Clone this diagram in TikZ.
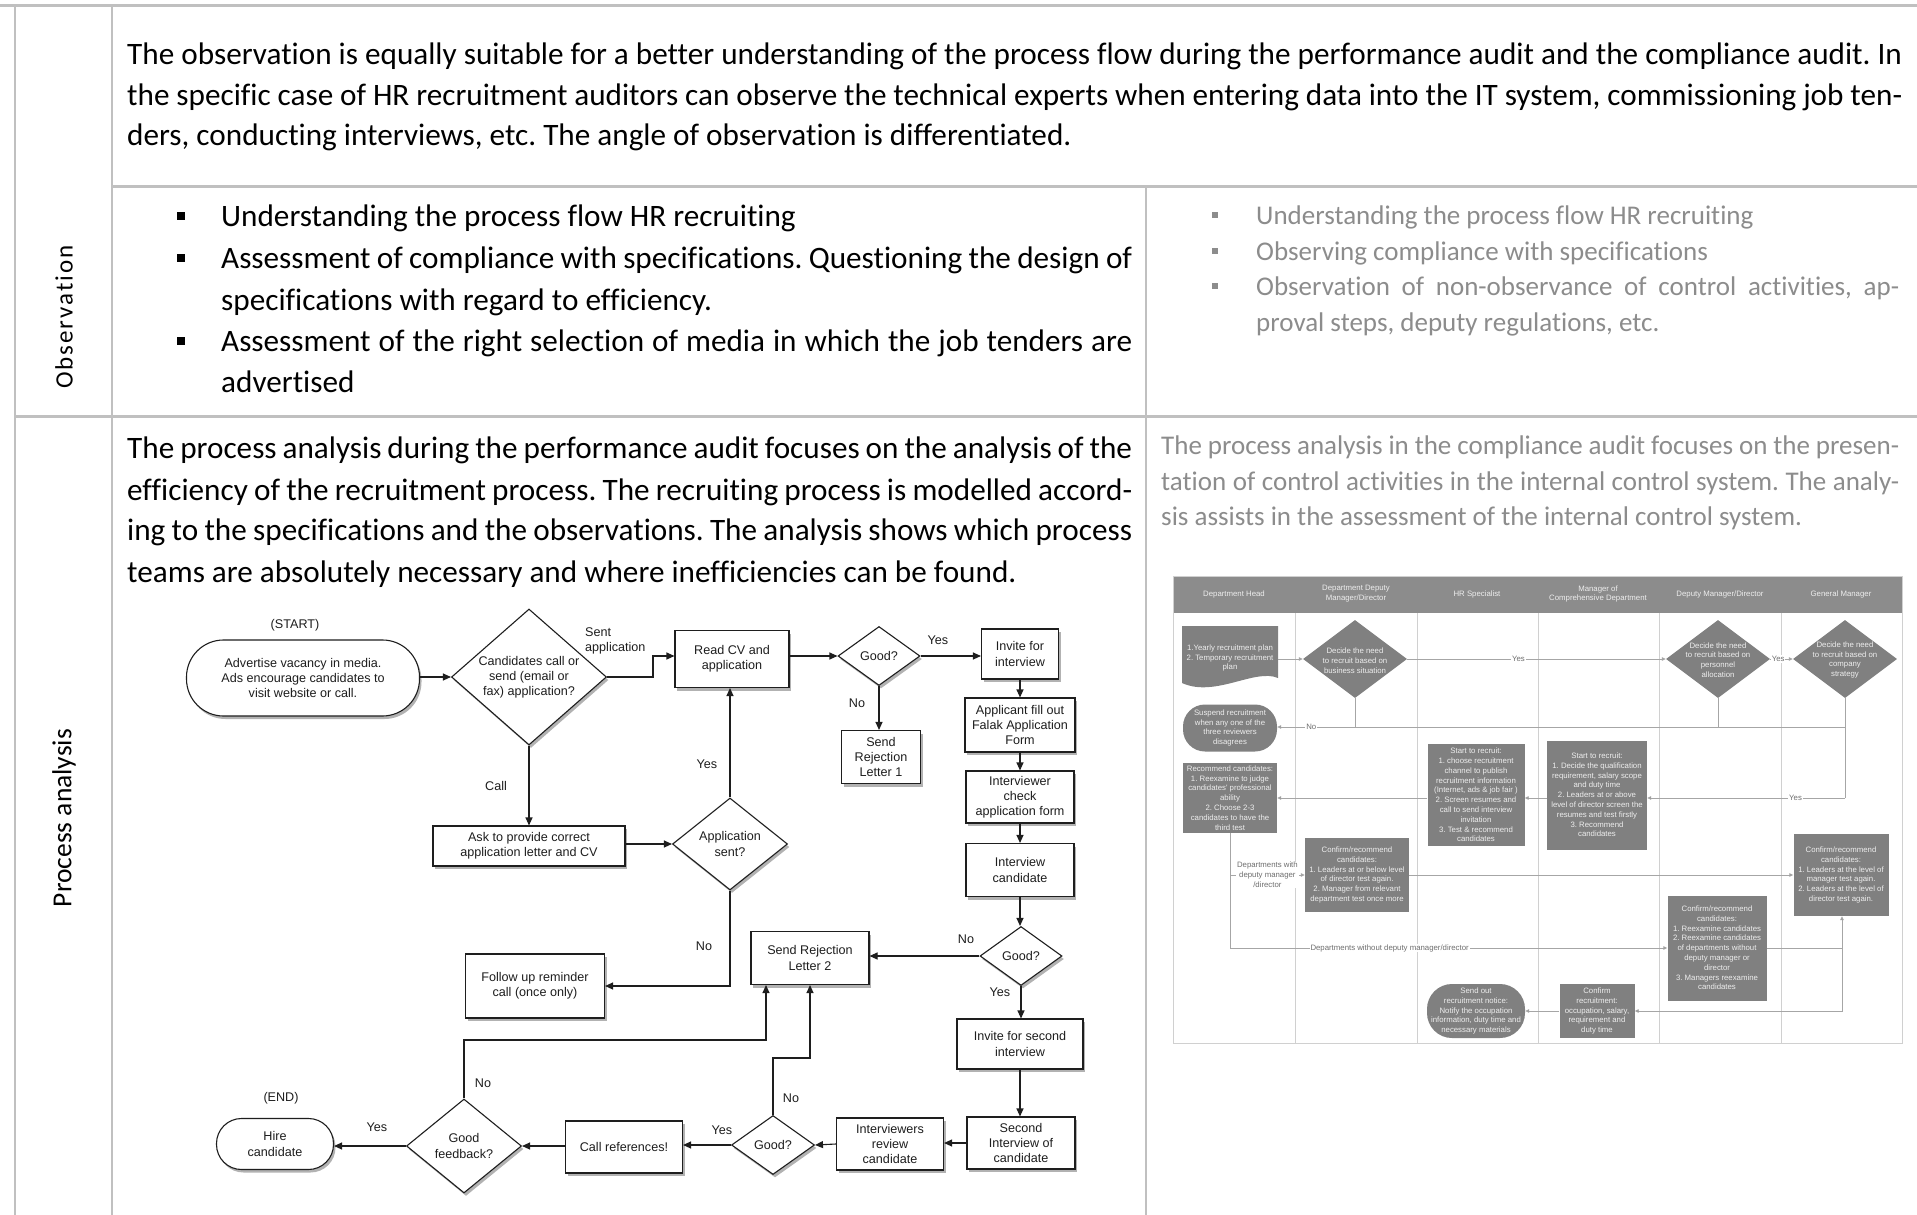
\documentclass[tikz,border=0pt]{standalone}
\usepackage{fontspec}
\setmainfont{Carlito}[Ligatures=NoCommon]
\newfontfamily\flowfont{Liberation Sans}
\newfontfamily\spacedfont[LetterSpace=8,Ligatures=NoCommon]{Carlito}
\usetikzlibrary{arrows.meta,shapes.geometric,shadows}
\definecolor{rulegray}{HTML}{C0C0C0}
\definecolor{txtgray}{HTML}{8C8C8C}
\definecolor{lanefill}{HTML}{808080}
\definecolor{headfill}{HTML}{8C8C8C}
\definecolor{laneline}{HTML}{D0D0D0}
\definecolor{conngray}{HTML}{A6A6A6}
\definecolor{conndark}{HTML}{6E6E6E}
\definecolor{lanetext}{HTML}{EEEEEE}
\definecolor{ink}{HTML}{1E1E1E}
\frenchspacing
\newcommand\mybodyfont{\fontsize{31.2}{40}\selectfont\spaceskip=0.226em plus 0.25em minus 0.07em\relax}
\newcommand\mygrayfont{\fontsize{27}{35}\selectfont\spaceskip=0.226em plus 0.25em minus 0.07em\relax}
\newcommand\myflowsize{\flowfont\fontsize{12.6}{15.2}\selectfont}
\newcommand\mylanesize{\flowfont\fontsize{7.8}{9.8}\selectfont}
\begin{document}
\begin{tikzpicture}[x=1pt,y=-1pt,
  tbl/.style={draw=rulegray, line width=1.5pt},
  tblh/.style={draw=rulegray, line width=3pt},
  bodyline/.style={anchor=base west, inner sep=0pt, font=\mybodyfont, text=black},
  grayline/.style={anchor=base west, inner sep=0pt, font=\mygrayfont, text=txtgray},
  fshadow/.style={drop shadow={shadow xshift=2pt, shadow yshift=-3pt, opacity=0.3, fill=black}},
  fbox/.style={draw=ink, line width=1.1pt, fill=white, fshadow, font=\myflowsize, text=ink, align=center, inner sep=0pt},
  fdiam/.style={fbox, diamond},
  ftext/.style={font=\myflowsize, text=ink, align=center, inner sep=0pt},
  farr/.style={draw=ink, line width=1.1pt, -{Triangle[length=8pt,width=7pt]}},
  sbox/.style={fill=lanefill, text=lanetext, font=\mylanesize, align=center, inner sep=0pt},
  sdiam/.style={fill=lanefill, diamond, inner sep=0pt, minimum width=104pt, minimum height=78pt},
  stext/.style={text=lanetext, font=\mylanesize, align=center, inner sep=0pt},
  sline/.style={draw=conngray, line width=0.9pt},
  sarr/.style={sline, -{Triangle[length=4pt,width=3.5pt,fill=conndark]}},
  slbl/.style={fill=white, inner sep=0.8pt, text=conndark, font=\mylanesize, align=center},
  hdr/.style={text=lanetext, font=\mylanesize, align=center, inner sep=0pt}
]
\useasboundingbox (0,0) rectangle (1917,1215);
\fill[white] (0,0) rectangle (1917,1215);

% ---------- table rules ----------
\draw[tblh] (0,6) -- (1917,6);
\draw[tbl] (15,6) -- (15,1215);
\draw[tbl] (112,6) -- (112,1215);
\draw[tblh] (112,186) -- (1917,186);
\draw[tbl] (1146,186) -- (1146,1215);
\draw[tblh] (15,416) -- (1917,416);

% ---------- row labels ----------
\node[rotate=90, inner sep=0pt, font=\spacedfont\fontsize{25}{30}\selectfont] (lobs) at (64,317) {Observation};
\node[rotate=90, inner sep=0pt, font=\fontsize{27.5}{30}\selectfont] (lproc) at (64,818) {Process analysis};

% ---------- first paragraph ----------
\node[bodyline] (p1a) at (127,65) {\makebox[1775pt][s]{The observation is equally suitable for a better understanding of the process flow during the performance audit and the compliance audit. In}};
\node[bodyline] (p1b) at (127,105) {\makebox[1775pt][s]{the specific case of HR recruitment auditors can observe the technical experts when entering data into the IT system, commissioning job ten-}};
\node[bodyline] (p1c) at (127,145) {ders, conducting interviews, etc. The angle of observation is differentiated.};

% ---------- middle bullets ----------
\fill[black] (177,212) rectangle (185,220);
\fill[black] (177,254) rectangle (185,262);
\fill[black] (177,337) rectangle (185,345);
\node[bodyline] (b1) at (221,226) {Understanding the process flow HR recruiting};
\node[bodyline] (b2a) at (221,268) {\makebox[911pt][s]{Assessment of compliance with specifications. Questioning the design of}};
\node[bodyline] (b2b) at (221,310) {specifications with regard to efficiency.};
\node[bodyline] (b3a) at (221,351) {\makebox[911pt][s]{Assessment of the right selection of media in which the job tenders are}};
\node[bodyline] (b3b) at (221,392) {advertised};

% ---------- right bullets ----------
\fill[txtgray] (1212,212) rectangle (1218,218);
\fill[txtgray] (1212,248) rectangle (1218,254);
\fill[txtgray] (1212,283) rectangle (1218,289);
\node[grayline] (g1) at (1256,224) {Understanding the process flow HR recruiting};
\node[grayline] (g2) at (1256,260) {Observing compliance with specifications};
\node[grayline] (g3) at (1256,295) {\makebox[643pt][s]{Observation of non-observance of control activities, ap-}};
\node[grayline] (g4) at (1256,331) {proval steps, deputy regulations, etc.};

% ---------- process paragraphs ----------
\node[bodyline] (m1) at (127,458) {\makebox[1005pt][s]{The process analysis during the performance audit focuses on the analysis of the}};
\node[bodyline] (m2) at (127,500) {\makebox[1005pt][s]{efficiency of the recruitment process. The recruiting process is modelled accord-}};
\node[bodyline] (m3) at (127,540) {\makebox[1005pt][s]{ing to the specifications and the observations. The analysis shows which process}};
\node[bodyline] (m4) at (127,582) {teams are absolutely necessary and where inefficiencies can be found.};

\node[grayline] (r1) at (1161,454) {\makebox[738pt][s]{The process analysis in the compliance audit focuses on the presen-}};
\node[grayline] (r2) at (1161,490) {\makebox[738pt][s]{tation of control activities in the internal control system. The analy-}};
\node[grayline] (r3) at (1161,525) {sis assists in the assessment of the internal control system.};

% ---------- flowchart ----------
\node[fbox, minimum width=233pt, minimum height=76pt, rounded corners=37pt] (start) at (303,678) {Advertise vacancy in media.\\Ads encourage candidates to\\visit website or call.};
\node[fdiam, minimum width=155pt, minimum height=136pt] (d1) at (529,677) {};
\node[ftext] (d1t) at (529,677) {Candidates call or\\send (email or\\fax) application?};
\node[fbox, minimum width=192pt, minimum height=40pt] (ask) at (529,846) {Ask to provide correct\\application letter and CV};
\node[fbox, minimum width=114pt, minimum height=57pt] (readcv) at (732,659) {Read CV and\\application};
\node[fdiam, minimum width=82pt, minimum height=59pt] (good1) at (879,656) {};
\node[ftext] (good1t) at (879,656) {Good?};
\node[fbox, minimum width=77pt, minimum height=50pt] (invite) at (1020,654) {Invite for\\interview};
\node[fbox, minimum width=79pt, minimum height=53pt] (rej1) at (881,757) {Send\\Rejection\\Letter 1};
\node[fbox, minimum width=110pt, minimum height=54pt] (applicant) at (1020,725) {Applicant fill out\\Falak Application\\Form};
\node[fbox, minimum width=108pt, minimum height=52pt] (intcheck) at (1020,797) {Interviewer\\check\\application form};
\node[fbox, minimum width=108pt, minimum height=53pt] (intcand) at (1020,870) {Interview\\candidate};
\node[fdiam, minimum width=115pt, minimum height=92pt] (appsent) at (730,844) {};
\node[ftext] (appsentt) at (730,844) {Application\\sent?};
\node[fdiam, minimum width=82pt, minimum height=59pt] (good2) at (1021,956) {};
\node[ftext] (good2t) at (1021,956) {Good?};
\node[fbox, minimum width=118pt, minimum height=53pt] (rej2) at (810,958) {Send Rejection\\Letter 2};
\node[fbox, minimum width=139pt, minimum height=64pt] (followup) at (535,986) {Follow up reminder\\call (once only)};
\node[fbox, minimum width=126pt, minimum height=50pt] (invite2) at (1020,1044) {Invite for second\\interview};
\node[fbox, minimum width=108pt, minimum height=52pt] (second) at (1021,1143) {Second\\Interview of\\candidate};
\node[fbox, minimum width=107pt, minimum height=52pt] (reviewers) at (890,1144) {Interviewers\\review\\candidate};
\node[fdiam, minimum width=83pt, minimum height=59pt] (good3) at (773,1145) {};
\node[ftext] (good3t) at (773,1145) {Good?};
\node[fbox, minimum width=117pt, minimum height=52pt] (callref) at (624,1147) {Call references!};
\node[fdiam, minimum width=115pt, minimum height=94pt] (goodfb) at (464,1146) {};
\node[ftext] (goodfbt) at (464,1146) {Good\\feedback?};
\node[fbox, minimum width=117pt, minimum height=51pt, rounded corners=25pt] (hire) at (275,1144) {Hire\\candidate};

\node[ftext] (lstart) at (295,625) {(START)};
\node[ftext, anchor=west, align=left] (lsent) at (585,641) {Sent\\application};
\node[ftext] (lcall) at (496,786) {Call};
\node[ftext] (ly1) at (938,640) {Yes};
\node[ftext] (ln1) at (857,703) {No};
\node[ftext] (ly2) at (707,764) {Yes};
\node[ftext] (ln2) at (704,946) {No};
\node[ftext] (ln3) at (966,939) {No};
\node[ftext] (ly3) at (1000,992) {Yes};
\node[ftext] (ly4) at (722,1130) {Yes};
\node[ftext] (ln4) at (791,1098) {No};
\node[ftext] (ln5) at (483,1083) {No};
\node[ftext] (ly5) at (377,1127) {Yes};
\node[ftext] (lend) at (281,1098) {(END)};

\draw[farr] (start.east |- d1.west) -- (d1.west);
\draw[farr] (d1.east) -| (653,656) -- ([yshift=3pt]readcv.west);
\draw[farr] ([yshift=3pt]readcv.east) -- (good1.west);
\draw[farr] (good1.east) -- (invite.west |- good1.east);
\draw[farr] (good1.south) -- (good1.south |- rej1.north);
\draw[farr] (invite.south) -- (applicant.north);
\draw[farr] (applicant.south) -- (intcheck.north);
\draw[farr] (intcheck.south) -- (intcand.north);
\draw[farr] (intcand.south) -- (intcand.south |- good2.north);
\draw[farr] (d1.south) -- (ask.north);
\draw[farr] (ask.east |- appsent.west) -- (appsent.west);
\draw[farr] (appsent.north) -- (appsent.north |- readcv.south);
\draw[farr] (appsent.south) |- (followup.east);
\draw[farr] (good2.west) -- (rej2.east |- good2.west);
\draw[farr] (good2.south) -- (good2.south |- invite2.north);
\draw[farr] (invite2.south) -- (invite2.south |- second.north);
\draw[farr] (second.west) -- (reviewers.east |- second.west);
\draw[farr] (reviewers.west) -- (good3.east);
\draw[farr] (good3.west) -- (callref.east |- good3.west);
\draw[farr] (callref.west |- goodfb.east) -- (goodfb.east);
\draw[farr] (goodfb.west) -- (hire.east |- goodfb.west);
\draw[farr] (good3.north) |- (810,1058) -- (rej2.south);
\draw[farr] (goodfb.north) |- (766,1040) -- ([xshift=-44pt]rej2.south);

% ---------- swimlane ----------
\fill[headfill] (1173,576) rectangle (1902,613);
\draw[draw=laneline, line width=0.8pt] (1173,576) rectangle (1902,1043);
\foreach \xx in {1295,1417,1538,1659,1781} \draw[draw=laneline, line width=0.8pt] (\xx,613) -- (\xx,1043);
\node[hdr] (h1) at (1234,594) {Department Head};
\node[hdr] (h2) at (1356,594) {Department Deputy\\Manager/Director};
\node[hdr] (h3) at (1477,594) {HR Specialist};
\node[hdr] (h4) at (1598,594) {Manager of\\Comprehensive Department};
\node[hdr] (h5) at (1720,594) {Deputy Manager/Director};
\node[hdr] (h6) at (1841,594) {General Manager};

\fill[lanefill] (1182,626) -- (1278,626) -- (1278,678) .. controls (1255,668) and (1215,698) .. (1182,683) -- cycle;
\node[stext, minimum width=96pt] (doc) at (1230,658) {1.Yearly recruitment plan\\2. Temporary recruitment\\plan};
\node[sdiam] (ddiam) at (1355,659) {};
\node[stext] (ddiamt) at (1355,661) {Decide the need\\to recruit based on\\business situation};
\node[sdiam] (dmdiam) at (1718,659) {};
\node[stext] (dmdiamt) at (1718,660) {Decide the need\\to recruit based on\\personnel\\allocation};
\node[sdiam] (gmdiam) at (1845,659) {};
\node[stext] (gmdiamt) at (1845,660) {Decide the need\\to recruit based on\\company\\strategy};

\node[sbox, minimum width=94pt, minimum height=47pt, rounded corners=22pt] (susp) at (1230,728) {Suspend recruitment\\when any one of the\\three reviewers\\disagrees};
\node[sbox, minimum width=94pt, minimum height=70pt] (rec) at (1230,798) {Recommend candidates:\\1. Reexamine to judge\\candidates' professional\\ability\\2. Choose 2-3\\candidates to have the\\third test};
\node[sbox, minimum width=97pt, minimum height=102pt] (hr) at (1476,795) {Start to recruit:\\1. choose recruitment\\channel to publish\\recruitment information\\(Internet, ads \& job fair )\\2. Screen resumes and\\call to send interview\\invitation\\3. Test \& recommend\\candidates};
\node[sbox, minimum width=100pt, minimum height=109pt] (comp) at (1597,795) {Start to recruit:\\1. Decide the qualification\\requirement, salary scope\\and duty time\\2. Leaders at or above\\level of director screen the\\resumes and test firstly\\3. Recommend\\candidates};
\node[sbox, minimum width=104pt, minimum height=74pt] (dconf) at (1357,875) {Confirm/recommend\\candidates:\\1. Leaders at or below level\\of director test again.\\2. Manager from relevant\\department test once more};
\node[sbox, minimum width=95pt, minimum height=82pt] (gmconf) at (1841,875) {Confirm/recommend\\candidates:\\1. Leaders at the level of\\manager test again.\\2. Leaders at the level of\\director test again.};
\node[sbox, minimum width=99pt, minimum height=105pt] (dmconf) at (1717,948) {Confirm/recommend\\candidates:\\1. Reexamine candidates\\2. Reexamine candidates\\of departments without\\deputy manager or\\director\\3. Managers reexamine\\candidates};
\node[sbox, minimum width=75pt, minimum height=54pt] (confrec) at (1597,1011) {Confirm\\recruitment:\\occupation, salary,\\requirement and\\duty time};
\node[sbox, minimum width=98pt, minimum height=54pt, rounded corners=25pt] (sendout) at (1476,1011) {Send out\\recruitment notice:\\Notify the occupation\\information, duty time and\\necessary materials};

\coordinate (nojoin) at (1845,727);
\coordinate (yesjoin) at (1845,798);
\coordinate (withj) at (1230,875);
\coordinate (withoutj) at (1230,948);
\coordinate (dmj) at (1842,948);

\draw[sarr] (doc.east |- ddiam.west) -- (ddiam.west);
\draw[sarr] (ddiam.east) -- node[slbl, pos=0.43]{Yes} (dmdiam.west);
\draw[sarr] (dmdiam.east) -- node[slbl, pos=0.35]{Yes} (gmdiam.west);
\draw[sline] (ddiam.south) -- (ddiam.south |- nojoin);
\draw[sline] (dmdiam.south) -- (dmdiam.south |- nojoin);
\draw[sline] (gmdiam.south) -- (yesjoin);
\draw[sarr] (nojoin) -- node[slbl, pos=0.94]{No} (susp.east |- nojoin);
\draw[sarr] (yesjoin) -- node[slbl, pos=0.25]{Yes} (comp.east |- yesjoin);
\draw[sarr] (comp.west |- yesjoin) -- (hr.east |- yesjoin);
\draw[sarr] (hr.west |- yesjoin) -- (rec.east |- yesjoin);
\draw[sline] (rec.south) -- (withoutj);
\draw[sarr] (withj) -- node[slbl, pos=0.5]{Departments with\\deputy manager\\/director} (dconf.west |- withj);
\draw[sarr] (withoutj) -- node[slbl, pos=0.365]{Departments without deputy manager/director} (dmconf.west |- withoutj);
\draw[sarr] (dconf.east) -- (gmconf.west |- dconf.east);
\draw[sline] (dmconf.east |- dmj) -- (dmj);
\draw[sarr] (dmj) -- (dmj |- gmconf.south);
\draw[sarr] (dmj) |- (confrec.east);
\draw[sarr] (confrec.west) -- (sendout.east);
\end{tikzpicture}
\end{document}
